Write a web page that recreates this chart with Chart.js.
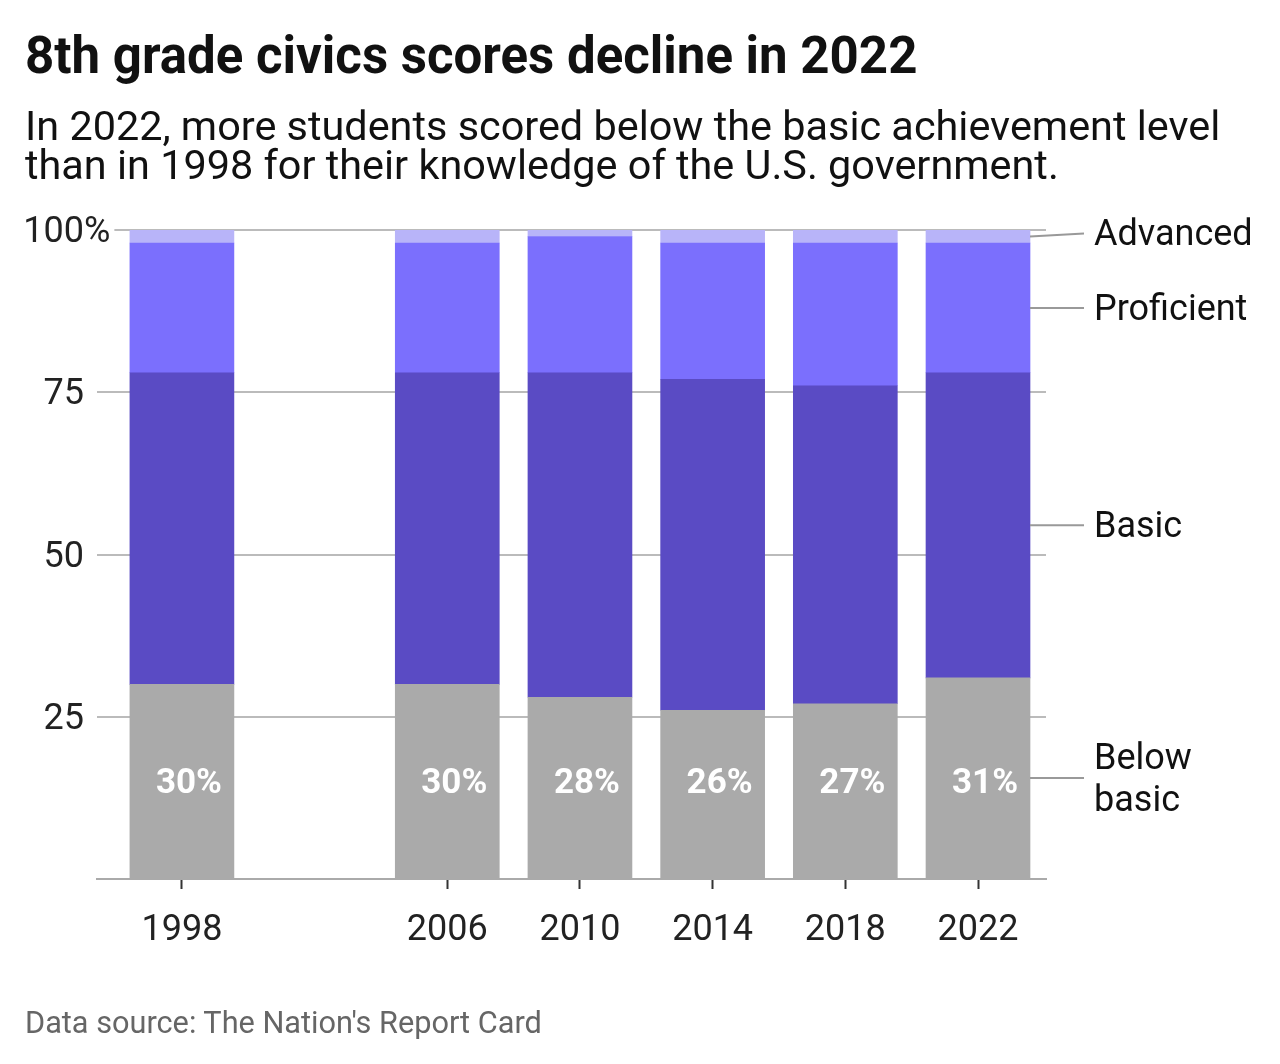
<!DOCTYPE html>
<html>
<head>
<meta charset="utf-8">
<script src="https://cdn.jsdelivr.net/npm/chart.js@4.4.1/dist/chart.umd.min.js"></script>
<style>
  body { margin: 0; background: #fff; font-family: Roboto, sans-serif; }
  #wrap { position: relative; width: 1280px; height: 1064px; }
  canvas { position: absolute; left: 0; top: 0; }
  .title { position: absolute; left: 25px; top: 30px; font-size: 51px; line-height: 51px; font-weight: bold; color: #111; white-space: nowrap; }
  .sub { position: absolute; left: 25px; top: 107px; font-size: 41.4px; line-height: 39px; color: #111; white-space: nowrap; }
  .source { position: absolute; left: 25px; top: 1007px; font-size: 30.7px; line-height: 31px; color: #666; white-space: nowrap; }
</style>
</head>
<body>
<div id="wrap">
  <canvas id="chart" width="1280" height="1064"></canvas>
  <div class="title">8th grade civics scores decline in 2022</div>
  <div class="sub">In 2022, more students scored below the basic achievement level<br>than in 1998 for their knowledge of the U.S. government.</div>
  <div class="source">Data source: The Nation's Report Card</div>
</div>
<script>
const years = [1998, 2006, 2010, 2014, 2018, 2022]
const belowBasic = [30, 30, 28, 26, 27, 31]
const basic = [48, 48, 50, 51, 49, 47]
const proficient = [20, 20, 21, 21, 22, 20]
const advanced = [2, 2, 1, 2, 2, 2]
const levelNames = ["Below basic", "Basic", "Proficient", "Advanced"]
const yTicks = [25, 50, 75, 100]

const colors = ["#aaaaaa", "#5a4bc4", "#7b6ffd", "#b8b4f9"]

function points(values) {
    return years.map((y, i) => ({ x: y, y: values[i] }))
}

// white % labels in the below basic bars + level names on the right
const labelPlugin = {
    id: "labels",
    afterDatasetsDraw(chart) {
        const ctx = chart.ctx
        ctx.save()
        ctx.font = "bold 35px Roboto"
        ctx.fillStyle = "#fff"
        ctx.textAlign = "center"
        ctx.textBaseline = "middle"
        chart.getDatasetMeta(0).data.forEach((bar, i) => {
            ctx.fillText(belowBasic[i] + "%", bar.x + 7, bar.base - 94)
        })

        ctx.font = "36px Roboto"
        ctx.fillStyle = "#111"
        ctx.textAlign = "left"
        ctx.strokeStyle = "#999"
        ctx.lineWidth = 2
        chart.data.datasets.forEach((ds, d) => {
            const meta = chart.getDatasetMeta(d)
            const bar = meta.data[meta.data.length - 1]
            const right = bar.x + bar.width / 2
            const mid = (bar.y + bar.base) / 2
            let labelY = d == 3 ? mid - 3 : mid
            ctx.beginPath()
            ctx.moveTo(right, mid)
            ctx.lineTo(right + 54, labelY)
            ctx.stroke()
            const lines = ds.label.split(" ")
            const ty = labelY + 3 //canvas middle sits a bit high
            if (lines.length > 1 && d == 0) {
                ctx.fillText(lines[0], right + 64, ty - 21)
                ctx.fillText(lines[1], right + 64, ty + 21)
            } else {
                ctx.fillText(ds.label, right + 64, ty)
            }
        })
        ctx.restore()
    },
    afterDraw(chart) {
        // y tick labels, number right aligned, % hangs over
        const ctx = chart.ctx
        const y = chart.scales.y
        ctx.save()
        ctx.font = "36px Roboto"
        ctx.textBaseline = "middle"
        yTicks.forEach(v => {
            const py = y.getPixelForValue(v)
            const num = String(v)
            const w = ctx.measureText(num).width
            const left = 84 - w
            if (v == 100) {
                const pw = ctx.measureText("%").width
                ctx.fillStyle = "#fff"
                ctx.fillRect(left, py - 4, w + pw + 4, 8)
            }
            ctx.fillStyle = "#222"
            ctx.textAlign = "left"
            ctx.fillText(v == 100 ? num + "%" : num, left, py + 3)
        })
        ctx.restore()
    }
}

const chart = new Chart(
    document.getElementById("chart"),
    {
        type: "bar",
        data: {
            datasets: [
                { label: levelNames[0], data: points(belowBasic), backgroundColor: colors[0] },
                { label: levelNames[1], data: points(basic), backgroundColor: colors[1] },
                { label: levelNames[2], data: points(proficient), backgroundColor: colors[2] },
                { label: levelNames[3], data: points(advanced), backgroundColor: colors[3] }
            ]
        },
        options: {
            responsive: false,
            animation: false,
            barThickness: 104,
            layout: { padding: { left: 0, right: 234, top: 230, bottom: 0 } },
            plugins: {
                legend: { display: false },
                tooltip: { enabled: false }
            },
            scales: {
                x: {
                    type: "linear",
                    stacked: true,
                    offset: false,
                    min: 1995.44,
                    max: 2024.05,
                    afterBuildTicks: (scale) => {
                        scale.ticks = years.map(v => ({ value: v }))
                    },
                    afterFit: (scale) => { scale.height = 185 },
                    border: { display: true, color: "#aaa", width: 2 },
                    grid: {
                        offset: false,
                        drawOnChartArea: false,
                        drawTicks: true,
                        tickLength: 10,
                        tickColor: "#333",
                        tickWidth: 2
                    },
                    ticks: {
                        color: "#222",
                        font: { family: "Roboto", size: 36 },
                        padding: 20,
                        maxRotation: 0,
                        callback: (v) => String(v)
                    }
                },
                y: {
                    stacked: true,
                    min: 0,
                    max: 100,
                    afterFit: (scale) => { scale.width = 97 },
                    afterBuildTicks: (scale) => {
                        scale.ticks = [0].concat(yTicks).map(v => ({ value: v }))
                    },
                    border: { display: false },
                    grid: {
                        color: "#bbb",
                        lineWidth: 2,
                        drawTicks: false
                    },
                    ticks: { display: false }
                }
            }
        },
        plugins: [labelPlugin]
    }
)
</script>
</body>
</html>
